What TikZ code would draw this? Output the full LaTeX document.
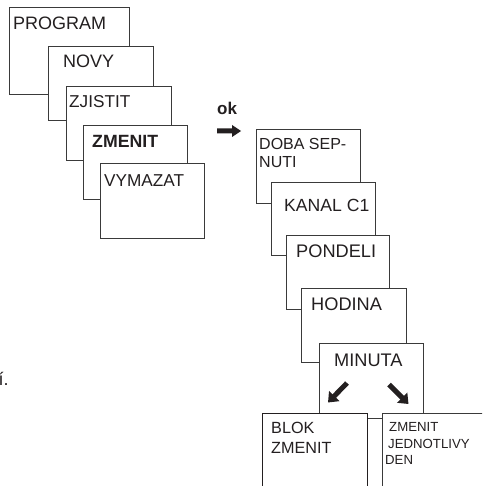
\documentclass[tikz,border=0pt]{standalone}
\usepackage{fontspec}
\setmainfont{Liberation Sans}
\usetikzlibrary{arrows.meta}
\definecolor{ink}{HTML}{231F20}
\definecolor{frame}{HTML}{3A3A3A}
\tikzset{
  screen/.style={draw=frame, line width=0.9pt, fill=white},
  lbl/.style={inner sep=0pt, anchor=base west, text=ink},
  fat/.style={line width=5pt, draw=ink, -{Triangle[length=9pt,width=14pt]}}
}
\newcommand{\fs}[1]{\fontsize{#1}{#1}\selectfont}
\begin{document}
\begin{tikzpicture}[x=1pt,y=-1pt]
\clip (0,0) rectangle (482,486);
\fill[white] (0,0) rectangle (482,486);

% menu stack on the left
\draw[screen] (9,7) rectangle (129,94);
\node[lbl] (program) at (13,29.5) {\fs{18}PROGRAM};
\draw[screen] (48,46) rectangle (153,120);
\node[lbl] (novy) at (63,68) {\fs{18}NOVY};
\draw[screen] (66,86) rectangle (171,160);
\node[lbl] (zjistit) at (69,108) {\fs{17.2}ZJISTIT};
\draw[screen] (83,125) rectangle (187,199);
\node[lbl] (zmenit) at (92,148) {\fs{17.7}\bfseries ZMENIT};
\draw[screen] (100,163) rectangle (204,238);
\node[lbl] (vymazat) at (104,186) {\fs{17.2}VYMAZAT};

% confirmation
\node[lbl] (ok) at (217,115) {\fs{17}\bfseries ok};
\fill[ink] (217,128.5) -- (232,128.5) -- (232,125) -- (241,131) -- (232,137) -- (232,133.5) -- (217,133.5) -- cycle;

% editing sequence on the right
\draw[screen] (256,129) rectangle (360,203);
\node[lbl] (doba) at (259,149.3) {\fs{16}DOBA SEP-};
\node[lbl] (nuti) at (259,167.7) {\fs{16}NUTI};
\draw[screen] (271,182) rectangle (375,255);
\node[lbl] (kanal) at (284,211.7) {\fs{17.6}KANAL C1};
\draw[screen] (286,235) rectangle (389,309);
\node[lbl] (pondeli) at (296,257.3) {\fs{18.2}PONDELI};
\draw[screen] (301,288) rectangle (406,362);
\node[lbl] (hodina) at (311,310.7) {\fs{18.2}HODINA};
\draw[screen] (319,343) rectangle (423,418);
\node[lbl] (minuta) at (334,366.7) {\fs{18.2}MINUTA};
\coordinate (la) at (347,383);
\coordinate (lt) at (328,402.5);
\coordinate (ra) at (389,384.5);
\coordinate (rt) at (408.5,404);
\draw[fat] (la) -- (lt);
\draw[fat] (ra) -- (rt);

% two branches
\draw[screen, draw=ink] (262,413) rectangle (367,500);
\node[lbl] (blok) at (271,433) {\fs{16.2}BLOK};
\node[lbl] (blokz) at (271,453) {\fs{16.2}ZMENIT};
\draw[screen] (382,413) rectangle (500,500);
\node[lbl] (zm) at (389,431.7) {\fs{13.2}ZMENIT};
\node[lbl] (jed) at (388,448) {\fs{13.2}JEDNOTLIVY};
\node[lbl] (den) at (385,464) {\fs{13.2}DEN};

% trailing text at the left edge
\node[lbl] (frag) at (-1.5,385) {\fs{18}í.};
\end{tikzpicture}
\end{document}
